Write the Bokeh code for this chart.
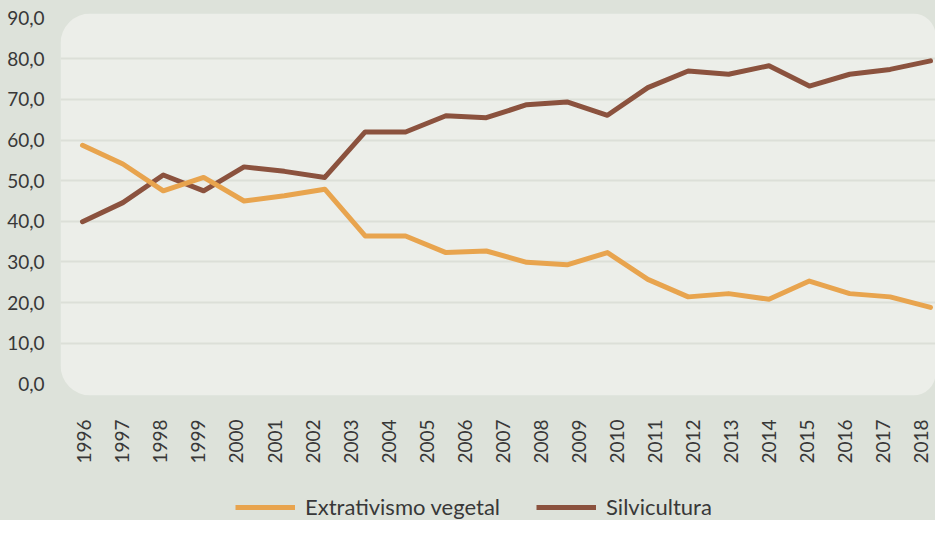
import math
from bokeh.plotting import figure
from bokeh.layouts import column
from bokeh.models import Range1d, LinearAxis, FixedTicker, Legend, LegendItem
from bokeh.embed import file_html
from bokeh.resources import INLINE

# ---- data ----
years = [str(y) for y in range(1996, 2019)]          # category tick labels
extrativismo_vegetal = [58.7, 54.1, 47.5, 50.8, 45.0, 46.3, 47.9, 36.4, 36.4, 32.3, 32.7,
                        29.9, 29.3, 32.3, 25.7, 21.4, 22.2, 20.8, 25.3, 22.2, 21.4, 18.8]
silvicultura = [39.9, 44.6, 51.4, 47.5, 53.4, 52.3, 50.8, 62.0, 62.0, 66.0, 65.5,
                68.7, 69.4, 66.1, 72.9, 77.0, 76.2, 78.3, 73.3, 76.2, 77.4, 79.5]
series_names = ["Extrativismo vegetal", "Silvicultura"]
y_ticks = [0, 10, 20, 30, 40, 50, 60, 70, 80, 90]
grid_ticks = [10, 20, 30, 40, 50, 60, 70, 80]

# ---- styles ----
OUTER_BG = "#dde2da"
PANEL_BG = "#eceee9"
GRID = "#dcdfd8"
ORANGE = "#e8a44e"
BROWN = "#8b523e"
TEXT = "#383838"
FONT = "Lato"
FS = "19px"
W = 935
LEFT = 60

point_index = list(range(len(silvicultura)))

x_rng = Range1d(-0.545, 21.124)
y_rng = Range1d(-2.88, 91.16)

p = figure(width=W, height=470, output_backend="svg", toolbar_location=None,
           x_range=x_rng, y_range=y_rng, x_axis_type=None,
           min_border_left=LEFT, min_border_right=0, min_border_top=13, min_border_bottom=75)
p.background_fill_color = OUTER_BG
p.border_fill_color = OUTER_BG
p.outline_line_color = None

# rounded light panel behind the plot area
p.quad(left=x_rng.start, right=x_rng.end, bottom=y_rng.start, top=y_rng.end,
       fill_color=PANEL_BG, line_color=None, border_radius=(30, 22, 22, 30), level="image")

# grid
p.ygrid.ticker = FixedTicker(ticks=grid_ticks)
p.ygrid.grid_line_color = GRID
p.ygrid.grid_line_width = 2

# y axis
ya = p.yaxis[0]
ya.ticker = FixedTicker(ticks=y_ticks)
ya.major_label_overrides = {t: f"{t:.1f}".replace(".", ",") for t in y_ticks}
ya.axis_line_color = None
ya.major_tick_line_color = None
ya.minor_tick_line_color = None
ya.major_tick_out = 0
ya.major_tick_in = 0
ya.major_label_standoff = 16
ya.major_label_text_font = FONT
ya.major_label_text_font_size = FS
ya.major_label_text_color = TEXT

# year axis
p.extra_x_ranges = {"years": Range1d(-0.623, 22.368)}
xa = LinearAxis(x_range_name="years",
                ticker=FixedTicker(ticks=list(range(len(years)))),
                major_label_overrides={i: y for i, y in enumerate(years)},
                major_label_orientation=math.pi / 2)
xa.axis_line_color = None
xa.major_tick_line_color = None
xa.minor_tick_line_color = None
xa.major_tick_out = 0
xa.major_tick_in = 0
xa.major_label_standoff = 24
xa.major_label_text_font = FONT
xa.major_label_text_font_size = FS
xa.major_label_text_color = TEXT
p.add_layout(xa, "below")

# lines
p.line(point_index, silvicultura, line_color=BROWN, line_width=5,
       line_join="round", line_cap="round")
p.line(point_index, extrativismo_vegetal, line_color=ORANGE, line_width=5,
       line_join="round", line_cap="round")

# ---- legend strip below the chart ----
q = figure(width=W, height=50, output_backend="svg", toolbar_location=None,
           x_range=Range1d(0, 1), y_range=Range1d(0, 1), x_axis_type=None, y_axis_type=None,
           min_border_left=LEFT, min_border_right=0, min_border_top=0, min_border_bottom=0)
q.background_fill_color = OUTER_BG
q.border_fill_color = OUTER_BG
q.outline_line_color = None
q.xgrid.visible = False
q.ygrid.visible = False
# legend keys: same series, falling outside this strip's visible range
k_orange = q.line(point_index, extrativismo_vegetal, line_color=ORANGE, line_width=5)
k_brown = q.line(point_index, silvicultura, line_color=BROWN, line_width=5)

legend = Legend(items=[LegendItem(label=series_names[0], renderers=[k_orange]),
                       LegendItem(label=series_names[1], renderers=[k_brown])],
                orientation="horizontal", location=(235 - LEFT, 0),
                glyph_width=60, glyph_height=20, label_standoff=10, spacing=36,
                padding=0, margin=0, border_line_color=None, background_fill_alpha=0,
                label_text_font=FONT, label_text_font_size="22px", label_text_color=TEXT)
q.add_layout(legend)

layout = column(p, q, spacing=0, styles={"background-color": OUTER_BG})
open("out.html", "w").write(file_html(layout, INLINE))
